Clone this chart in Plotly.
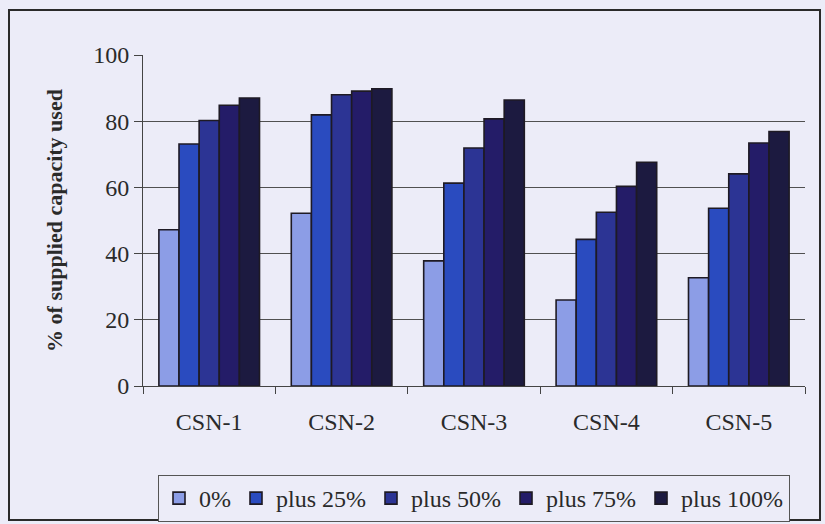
import plotly.graph_objects as go

categories = ["CSN-1", "CSN-2", "CSN-3", "CSN-4", "CSN-5"]
series_names = ["0%", "plus 25%", "plus 50%", "plus 75%", "plus 100%"]
v0 = [47.2, 52.2, 37.8, 26.0, 32.7]
v25 = [73.1, 81.9, 61.3, 44.3, 53.7]
v50 = [80.2, 88.0, 71.9, 52.5, 64.1]
v75 = [84.8, 89.1, 80.7, 60.3, 73.4]
v100 = [87.0, 89.8, 86.4, 67.6, 76.9]
y_ticks = [0, 20, 40, 60, 80, 100]

colors = ["#8c9de6", "#2a4bbf", "#2c3494", "#241c68", "#1c1a40"]
values = [v0, v25, v50, v75, v100]

W, H = 825, 524
L, R, T, B = 143, 20, 55, 138
pw, ph = W - L - R, H - T - B
bg = "#ececf8"
font = "Liberation Serif"
fs = 24

fig = go.Figure()
for name, vals, c in zip(series_names, values, colors):
    fig.add_trace(go.Bar(x=categories, y=vals, name=name,
                         marker=dict(color=c, line=dict(color="#1e1a24", width=1.6))))

def px(x):
    return (x - L) / pw

def py(y):
    return (H - B - y) / ph

fig.update_layout(
    width=W, height=H,
    margin=dict(l=L, r=R, t=T, b=B, autoexpand=False),
    paper_bgcolor=bg, plot_bgcolor=bg,
    barmode="group", bargap=0.24, bargroupgap=0,
    font=dict(family=font, size=fs, color="#2a2a2a"),
    showlegend=True,
    legend=dict(orientation="h", x=0.5, xanchor="center", y=py(475), yanchor="top",
                bordercolor="#555555", borderwidth=1, bgcolor=bg,
                font=dict(family=font, size=24, color="#2a2a2a"),
                itemwidth=30, tracegroupgap=0),
    xaxis=dict(showline=True, linecolor="#444444", linewidth=1, automargin=False,
               ticks="outside", tickson="boundaries", ticklen=7, tickcolor="#444444",
               ticklabelstandoff=14,
               tickfont=dict(size=fs), showgrid=False),
    yaxis=dict(range=[0, 100], tickvals=y_ticks, showline=True, linecolor="#444444", linewidth=1,
               automargin=False,
               ticks="outside", ticklen=8, tickcolor="#444444",
               showgrid=True, gridcolor="#505050", gridwidth=1, zeroline=False,
               tickfont=dict(size=fs),
               title=dict(text="<b>% of supplied capacity used</b>", font=dict(size=22), standoff=24)),
    shapes=[dict(type="rect", xref="paper", yref="paper",
                 x0=px(9), x1=px(820), y0=py(520), y1=py(10),
                 line=dict(color="#2a2a2a", width=2), fillcolor="rgba(0,0,0,0)", layer="below")],
)

fig.write_html("out.html", config={"displayModeBar": False},
               post_script="document.body.style.margin='0';document.body.style.background='%s';" % bg)
